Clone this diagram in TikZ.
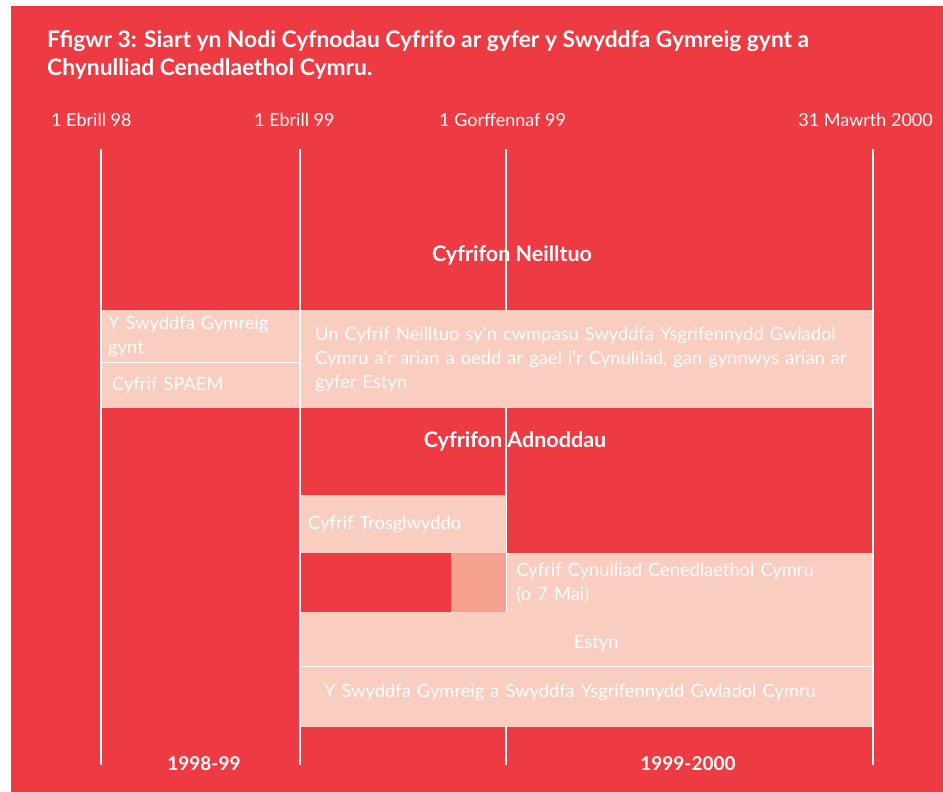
\documentclass[tikz,border=0pt]{standalone}
\usepackage{fontspec}
\setmainfont{Lato}
\usepackage{tikz}
\usetikzlibrary{positioning, backgrounds}
\definecolor{audred}{HTML}{EE3B43}
\definecolor{barpink}{HTML}{FACDC1}
\definecolor{barsalmon}{HTML}{F5A290}
\tikzstyle{tline}=[draw=white, line width=2pt]
\tikzstyle{sep}=[draw=white, line width=1.5pt]
\tikzstyle{bar}=[fill=barpink, shape=rectangle, anchor=north west, inner ysep=0pt, text=white, align=left, font=\fontsize{18.3}{24}\selectfont]
\tikzstyle{datelbl}=[inner sep=0pt, text=white, font=\fontsize{18}{24}\selectfont]
\tikzstyle{headlbl}=[inner sep=0pt, text=white, font=\fontsize{21.5}{24}\selectfont\bfseries]
\tikzstyle{yearlbl}=[inner sep=0pt, text=white, font=\fontsize{19}{24}\selectfont\bfseries]

\begin{document}
\begin{tikzpicture}[x=1pt, y=-1pt]
\useasboundingbox (0,0) rectangle (943,792);
\fill[audred] (11,6) rectangle (943,792);
% the title
\node[headlbl, anchor=base west, font=\fontsize{22.8}{28}\selectfont\bfseries] (title) at (47,48) {Ffigwr 3: Siart yn Nodi Cyfnodau Cyfrifo ar gyfer y Swyddfa Gymreig gynt a};
\node[headlbl, anchor=base west, font=\fontsize{22.8}{28}\selectfont\bfseries] (title2) at (47,76) {Chynulliad Cenedlaethol Cymru.};
% the dates
\node[datelbl, anchor=base west] (d98) at (51,126) {1 Ebrill 98};
\node[datelbl, anchor=base west] (d99) at (254,126) {1 Ebrill 99};
\node[datelbl, anchor=base west] (dgorff) at (439,126) {1 Gorffennaf 99};
\node[datelbl, anchor=base east] (d2000) at (933,126) {31 Mawrth 2000};
% the time lines
\foreach \n/\x in {a/101, b/300, c/506, d/873}
{
\coordinate (\n-top) at (\x,149);
\coordinate (\n-bot) at (\x,765);
}
\draw[tline] (c-top) -- (c-bot);
% the bars
\node[bar, minimum width=199pt, minimum height=52pt, text width=185pt, inner xsep=7pt] (gynt) at (101,310) {Y Swyddfa Gymreig\\gynt};
\node[bar, minimum width=199pt, minimum height=46pt, text width=177pt, inner xsep=11pt] (spaem) at (101,362) {Cyfrif SPAEM};
\node[bar, minimum width=573pt, minimum height=98pt, text width=543pt, inner xsep=15pt] (neilltuo) at (300,310) {Un Cyfrif Neilltuo sy'n cwmpasu Swyddfa Ysgrifennydd Gwladol\\Cymru a'r arian a oedd ar gael i'r Cynulilad, gan gynnwys arian ar\\gyfer Estyn};
\node[bar, minimum width=206pt, minimum height=58pt, text width=190pt, inner xsep=8pt] (trosg) at (300,495) {Cyfrif Trosglwyddo};
\node[bar, fill=barsalmon, minimum width=55pt, minimum height=59pt] (overlap) at (451,553) {};
\node[bar, draw=white, line width=1pt, minimum width=367pt, minimum height=59pt, text width=347pt, inner xsep=10pt] (cynulliad) at (506,553) {Cyfrif Cynulliad Cenedlaethol Cymru\\(o 7 Mai)};
\node[bar, align=center, minimum width=573pt, minimum height=54pt, text width=573pt, inner xsep=0pt, text height=20pt, text depth=2pt] (estyn) at (300,612) {\hspace*{19pt}Estyn};
\node[bar, minimum width=573pt, minimum height=61pt, text width=525pt, inner xsep=24pt, text depth=12pt] (swyddfa) at (300,666) {Y Swyddfa Gymreig a Swyddfa Ysgrifennydd Gwladol Cymru};
% lines over the bars
\draw[tline] (a-top) -- (a-bot);
\draw[tline] (b-top) -- (b-bot);
\draw[tline] (d-top) -- (d-bot);
\draw[sep] (gynt.south west) -- (gynt.south east);
\draw[sep] (estyn.south west) -- (estyn.south east);
% the headings
\node[headlbl, anchor=base] (neillhd) at (512,261) {Cyfrifon Neilltuo};
\node[headlbl, anchor=base] (adnhd) at (515,447) {Cyfrifon Adnoddau};
\node[yearlbl, anchor=base] (yr98) at (204,770) {1998-99};
\node[yearlbl, anchor=base] (yr99) at (688,770) {1999-2000};
\end{tikzpicture}
\end{document}
